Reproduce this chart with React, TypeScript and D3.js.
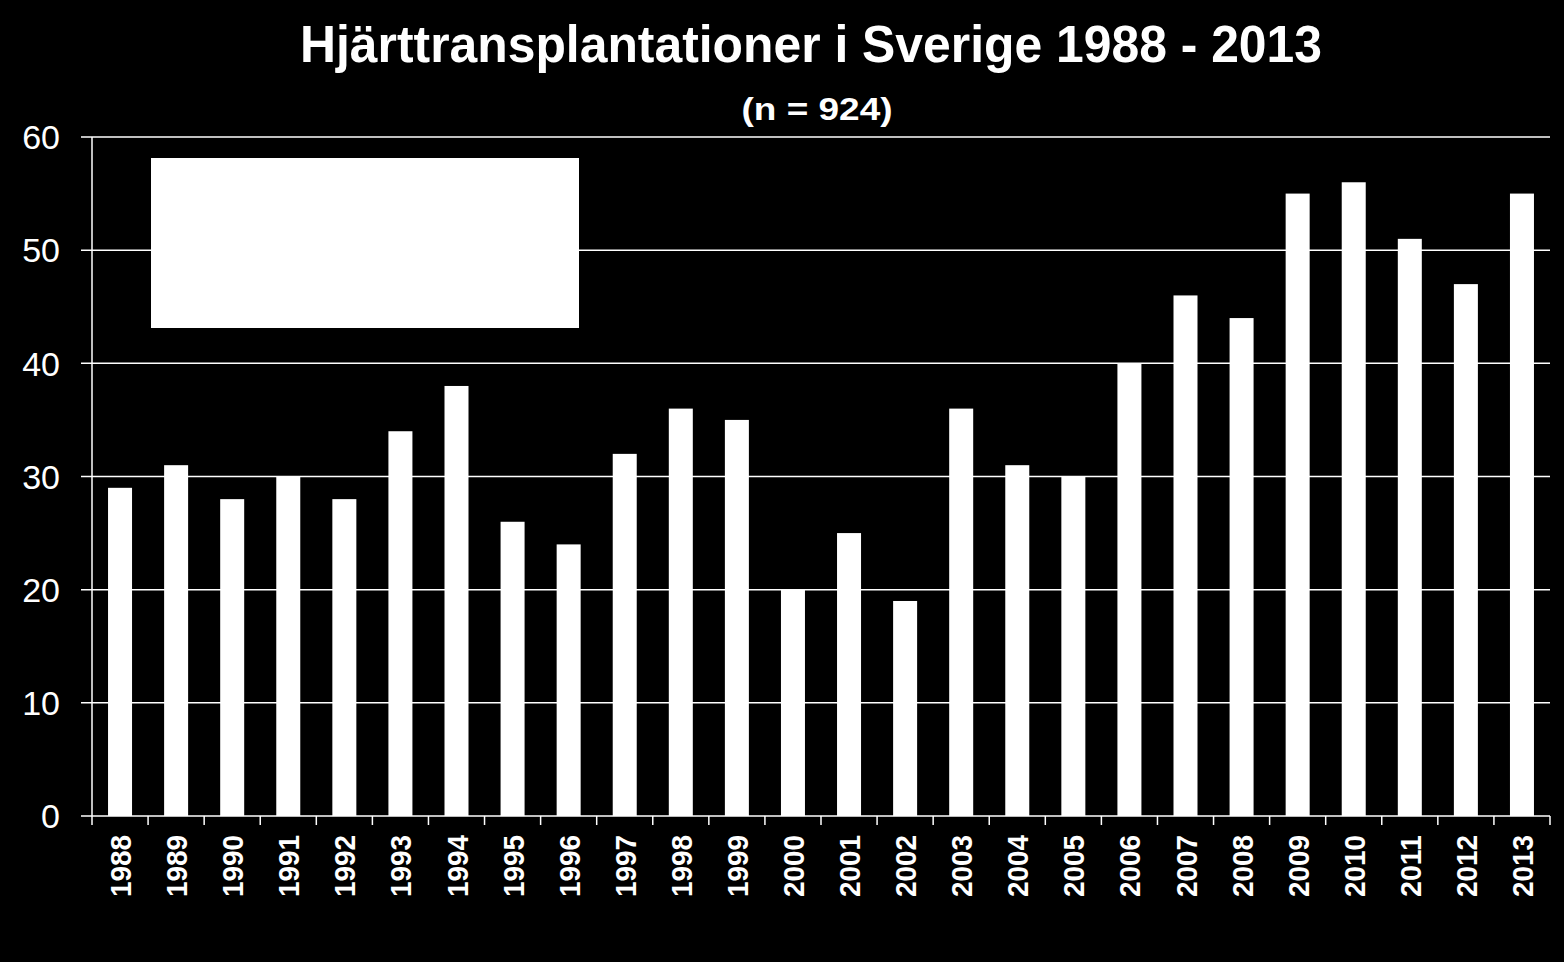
import React from "react";
import * as d3 from "d3";

const years = ["1988","1989","1990","1991","1992","1993","1994","1995","1996","1997","1998","1999","2000","2001","2002","2003","2004","2005","2006","2007","2008","2009","2010","2011","2012","2013"];
const counts = [29,31,28,30,28,34,38,26,24,32,36,35,20,25,19,36,31,30,40,46,44,55,56,51,47,55];
const yTicks = [0,10,20,30,40,50,60];
const title = "Hjärttransplantationer i Sverige 1988 - 2013";
const subtitle = "(n = 924)";

export default function App() {
  const W = 1564, H = 962;
  const left = 92, right = 1550, top = 137, bottom = 816;
  const x = d3.scaleBand<string>().domain(years).range([left, right]).paddingInner(0).paddingOuter(0);
  const y = d3.scaleLinear().domain([0, 60]).range([bottom, top]);
  const barW = 24;
  const font = "'Liberation Sans', Arial, sans-serif";
  return (
    <div style={{ position: "fixed", left: 0, top: 0, width: W, height: H, background: "#000" }}>
      <svg width={W} height={H} style={{ display: "block" }}>
        <rect x={0} y={0} width={W} height={H} fill="#000" />
        <text x={811} y={62} textAnchor="middle" fill="#fff" fontFamily={font} fontWeight="bold" fontSize={52} textLength={1022} lengthAdjust="spacingAndGlyphs">{title}</text>
        <text x={817} y={120} textAnchor="middle" fill="#fff" fontFamily={font} fontWeight="bold" fontSize={31} textLength={151} lengthAdjust="spacingAndGlyphs">{subtitle}</text>
        {yTicks.map((t) => (
          <g key={t}>
            <line x1={81} x2={right} y1={y(t)} y2={y(t)} stroke="#fff" strokeWidth={1.5} />
            <text x={60} y={y(t)} dy="0.36em" textAnchor="end" fill="#fff" fontFamily={font} fontSize={34}>{t}</text>
          </g>
        ))}
        <line x1={left} x2={left} y1={top} y2={bottom} stroke="#fff" strokeWidth={1.5} />
        {years.map((yr, i) => (
          <rect key={yr} x={(x(yr) as number) + x.bandwidth() / 2 - barW / 2} y={y(counts[i])} width={barW} height={bottom - y(counts[i])} fill="#fff" />
        ))}
        {[...years.map((yr) => x(yr) as number), right].map((px, i) => (
          <line key={i} x1={px} x2={px} y1={bottom} y2={825} stroke="#fff" strokeWidth={1.5} />
        ))}
        {years.map((yr) => {
          const cx = (x(yr) as number) + x.bandwidth() / 2;
          return (
            <text key={yr} transform={`translate(${cx + 11},835) rotate(-90)`} textAnchor="end" fill="#fff" fontFamily={font} fontWeight="bold" fontSize={30} textLength={62} lengthAdjust="spacingAndGlyphs">{yr}</text>
          );
        })}
        <rect x={151} y={158} width={428} height={170} fill="#fff" />
      </svg>
    </div>
  );
}
